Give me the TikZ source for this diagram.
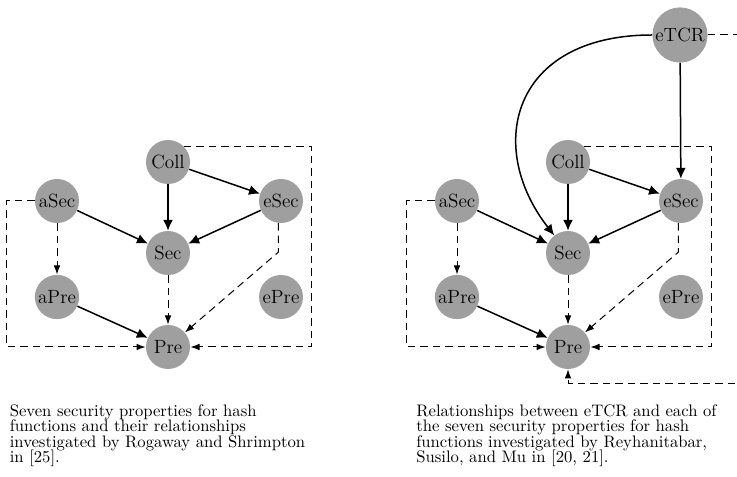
\documentclass[tikz,border=0pt]{standalone}
\usetikzlibrary{arrows.meta}
\begin{document}
\begin{tikzpicture}[x=0.6pt,y=-0.6pt,
		prop/.style={circle,fill=gray!75,minimum size=26.4pt,inner sep=1pt,font=\fontsize{11.5}{13}\selectfont},
		implies/.style={line width=0.9pt,-{Latex[length=6.5pt,width=6pt]}},
		nonimpl/.style={line width=0.6pt,dash pattern=on 4.5pt off 3pt,-{Latex[length=5.5pt,width=4pt]}},
		caption/.style={anchor=north west,inner sep=0pt,align=left,font={\fontsize{10}{9.3}\selectfont\lineskiplimit=-20pt}}]
		\clip (0,0) rectangle (737,477);
		% Rogaway and Shrimpton
		\node[prop] (coll) at (168,162) {Coll};
		\node[prop] (asec) at (57,201) {aSec};
		\node[prop] (esec) at (281,201) {eSec};
		\node[prop] (sec) at (168,253) {Sec};
		\node[prop] (apre) at (57,297) {aPre};
		\node[prop] (epre) at (281,297) {ePre};
		\node[prop] (pre) at (168,347) {Pre};
		\draw[implies] (coll)--(sec);
		\draw[implies] (coll)--(esec);
		\draw[implies] (asec)--(sec);
		\draw[implies] (esec)--(sec);
		\draw[implies] (apre)--(pre);
		\draw[nonimpl] (asec)--(apre);
		\draw[nonimpl] (sec)--(pre);
		\draw[nonimpl] (esec.-97)--++(0,29)--(pre);
		\draw[nonimpl] (asec.west)--++(-28,0)|-(pre.west);
		\draw[nonimpl] (coll.north east)--++(128,0)|-(pre.east);
		\node[caption] (capl) at (9.5,404) {Seven security properties for hash\\functions and their relationships\\investigated by Rogaway and Shrimpton\\in [25].};
		% Reyhanitabar, Susilo and Mu
		\begin{scope}[xshift=240pt]
			\node[prop] (rcoll) at (168,162) {Coll};
			\node[prop] (rasec) at (57,201) {aSec};
			\node[prop] (resec) at (281,201) {eSec};
			\node[prop] (rsec) at (168,253) {Sec};
			\node[prop] (rapre) at (57,297) {aPre};
			\node[prop] (repre) at (281,297) {ePre};
			\node[prop] (rpre) at (168,347) {Pre};
			\node[prop] (retcr) at (280,35) {eTCR};
			\draw[implies] (rcoll)--(rsec);
			\draw[implies] (rcoll)--(resec);
			\draw[implies] (rasec)--(rsec);
			\draw[implies] (resec)--(rsec);
			\draw[implies] (rapre)--(rpre);
			\draw[implies] (retcr)--(resec);
			\draw[implies] (retcr.west) to[out=180,in=128,out looseness=1.6,in looseness=1.3] (rsec);
			\draw[nonimpl] (rasec)--(rapre);
			\draw[nonimpl] (rsec)--(rpre);
			\draw[nonimpl] (resec.-97)--++(0,29)--(rpre);
			\draw[nonimpl] (rasec.west)--++(-28,0)|-(rpre.west);
			\draw[nonimpl] (rcoll.north east)--++(128,0)|-(rpre.east);
			\draw[nonimpl] (retcr.east)--(360,35)--(360,383)-|(rpre.south);
			\node[caption] (capr) at (16,404) {Relationships between eTCR and each of\\the seven security properties for hash\\functions investigated by Reyhanitabar,\\Susilo, and Mu in [20, 21].};
		\end{scope}
	\end{tikzpicture}
\end{document}
